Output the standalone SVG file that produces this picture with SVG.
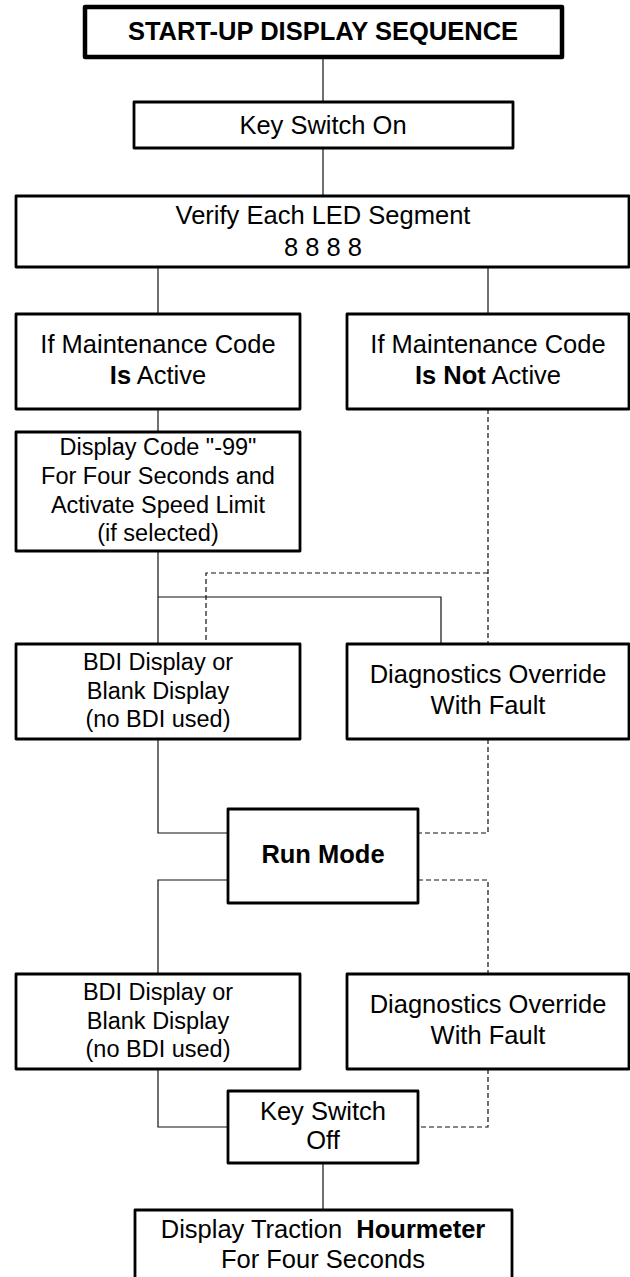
<svg xmlns="http://www.w3.org/2000/svg" width="630" height="1277" viewBox="0 0 630 1277">
<style>
  .box { fill: #fff; stroke: #000; stroke-width: 2.8; stroke-linejoin: round; }
  .title { fill: #fff; stroke: #000; stroke-width: 4.5; stroke-linejoin: round; }
  .t { font-family: "Liberation Sans", Arial, sans-serif; font-size: 25.5px; fill: #000; text-anchor: middle; }
  .s { font-family: "Liberation Sans", Arial, sans-serif; font-size: 23.5px; fill: #000; text-anchor: middle; }
  .b { font-weight: bold; }
  .ln { fill: none; stroke: #111; stroke-width: 1.2; }
  .dl { fill: none; stroke: #111; stroke-width: 1.2; stroke-dasharray: 5 3; }
</style>
<rect width="630" height="1277" fill="#fff"/>
<g id="connectors">
  <path class="ln" d="M323 57 V102"/>
  <path class="ln" d="M323 148 V196"/>
  <path class="ln" d="M158 267 V314"/>
  <path class="ln" d="M488 267 V314"/>
  <path class="ln" d="M158 409 V432"/>
  <path class="dl" d="M488 409 V644"/>
  <path class="ln" d="M158 551 V644"/>
  <path class="ln" d="M158 597 H441 V644"/>
  <path class="dl" d="M488 573 H206 V644"/>
  <path class="ln" d="M158 739 V833 H228"/>
  <path class="dl" d="M488 739 V833 H418"/>
  <path class="ln" d="M228 880 H158 V974"/>
  <path class="dl" d="M418 880 H488 V974"/>
  <path class="ln" d="M158 1069 V1127 H228"/>
  <path class="dl" d="M488 1069 V1127 H418"/>
  <path class="ln" d="M323 1163 V1210"/>
</g>
<g id="title">
  <rect class="title" x="85" y="7" width="477" height="50"/>
  <text class="t b" x="323" y="40">START-UP DISPLAY SEQUENCE</text>
</g>
<g id="key-on">
  <rect class="box" x="134" y="102" width="379" height="46"/>
  <text class="t" x="323" y="134">Key Switch On</text>
</g>
<g id="verify">
  <rect class="box" x="16" y="196" width="613" height="71"/>
  <text class="t" x="323" y="224">Verify Each LED Segment</text>
  <text class="t" x="323" y="256">8 8 8 8</text>
</g>
<g id="maint-active">
  <rect class="box" x="16" y="314" width="284" height="95"/>
  <text class="t" x="158" y="353">If Maintenance Code</text>
  <text class="t" x="158" y="384"><tspan class="b">Is</tspan> Active</text>
</g>
<g id="maint-not-active">
  <rect class="box" x="347" y="314" width="282" height="95"/>
  <text class="t" x="488" y="353">If Maintenance Code</text>
  <text class="t" x="488" y="384"><tspan class="b">Is Not</tspan> Active</text>
</g>
<g id="display-code">
  <rect class="box" x="16" y="432" width="284" height="119"/>
  <text class="s" x="158" y="455">Display Code "-99"</text>
  <text class="s" x="158" y="484">For Four Seconds and</text>
  <text class="s" x="158" y="513">Activate Speed Limit</text>
  <text class="s" x="158" y="541">(if selected)</text>
</g>
<g id="bdi-1">
  <rect class="box" x="16" y="644" width="284" height="95"/>
  <text class="s" x="158" y="670">BDI Display or</text>
  <text class="s" x="158" y="699">Blank Display</text>
  <text class="s" x="158" y="727">(no BDI used)</text>
</g>
<g id="diag-1">
  <rect class="box" x="347" y="644" width="282" height="95"/>
  <text class="t" x="488" y="683">Diagnostics Override</text>
  <text class="t" x="488" y="714">With Fault</text>
</g>
<g id="run-mode">
  <rect class="box" x="228" y="809" width="190" height="94"/>
  <text class="t b" x="323" y="863">Run Mode</text>
</g>
<g id="bdi-2">
  <rect class="box" x="16" y="974" width="284" height="95"/>
  <text class="s" x="158" y="1000">BDI Display or</text>
  <text class="s" x="158" y="1029">Blank Display</text>
  <text class="s" x="158" y="1057">(no BDI used)</text>
</g>
<g id="diag-2">
  <rect class="box" x="347" y="974" width="282" height="95"/>
  <text class="t" x="488" y="1013">Diagnostics Override</text>
  <text class="t" x="488" y="1044">With Fault</text>
</g>
<g id="key-off">
  <rect class="box" x="228" y="1091" width="190" height="72"/>
  <text class="t" x="323" y="1120">Key Switch</text>
  <text class="t" x="323" y="1149">Off</text>
</g>
<g id="hourmeter">
  <rect class="box" x="135" y="1210" width="377" height="90"/>
  <text class="t" x="323" y="1238" xml:space="preserve">Display Traction  <tspan class="b">Hourmeter</tspan></text>
  <text class="t" x="323" y="1268">For Four Seconds</text>
</g>
</svg>
